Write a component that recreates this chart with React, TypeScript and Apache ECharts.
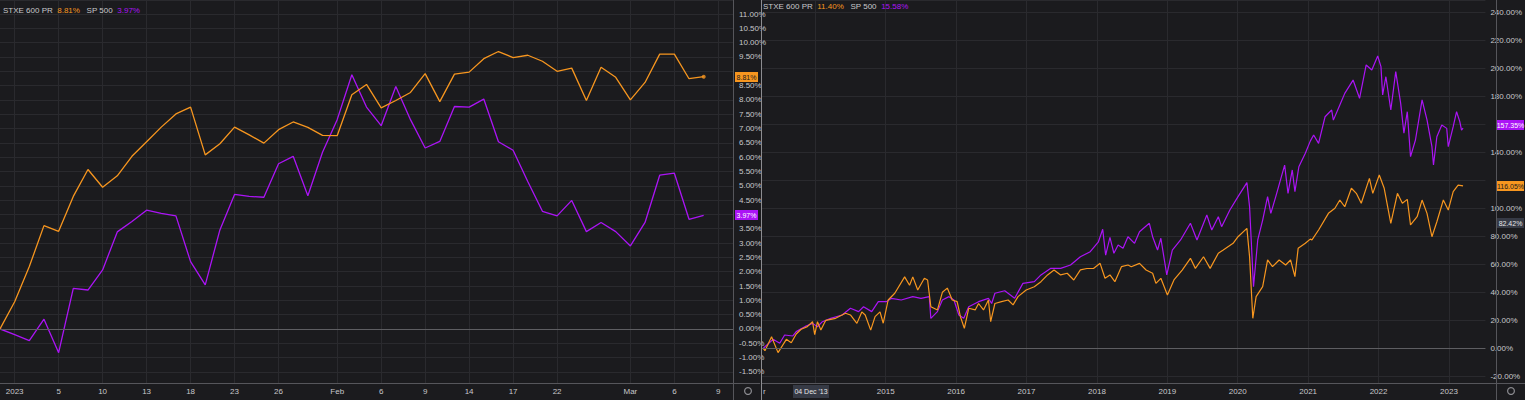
import React, { useEffect, useRef } from "react";
import * as echarts from "echarts";

// ---------- Left chart: YTD 2023, % change ----------
const ytdDates = [
  "2022-12-30", "2023-01-02", "2023-01-03", "2023-01-04", "2023-01-05", "2023-01-06", "2023-01-09", "2023-01-10",
  "2023-01-11", "2023-01-12", "2023-01-13", "2023-01-16", "2023-01-17", "2023-01-18", "2023-01-19", "2023-01-20",
  "2023-01-23", "2023-01-24", "2023-01-25", "2023-01-26", "2023-01-27", "2023-01-30", "2023-01-31", "2023-02-01",
  "2023-02-02", "2023-02-03", "2023-02-06", "2023-02-07", "2023-02-08", "2023-02-09", "2023-02-10", "2023-02-13",
  "2023-02-14", "2023-02-15", "2023-02-16", "2023-02-17", "2023-02-20", "2023-02-21", "2023-02-22", "2023-02-23",
  "2023-02-24", "2023-02-27", "2023-02-28", "2023-03-01", "2023-03-02", "2023-03-03", "2023-03-06", "2023-03-07",
  "2023-03-08", "2023-03-09", "2023-03-10",
];
const ytdTickLabels = [
  "", "2023", "", "", "5", "", "", "10", "", "", "13", "", "", "18", "", "", "23", "", "", "26", "", "", "", "Feb",
  "", "", "6", "", "", "9", "", "", "14", "", "", "17", "", "", "22", "", "", "", "", "Mar", "", "", "6", "", "", "9", "",
];
const stoxxYtd = [
  0, 0.95, 2.18, 3.61, 3.41, 4.63, 5.57, 4.95, 5.35, 6.03, 6.54, 7.05, 7.51, 7.75, 6.08, 6.47, 7.05, 6.78, 6.49, 6.96,
  7.23, 7.04, 6.76, 6.75, 8.18, 8.54, 7.72, 7.98, 8.26, 8.92, 7.94, 8.9, 8.97, 9.44, 9.69, 9.48, 9.56, 9.35, 9.0, 9.11,
  7.98, 9.14, 8.79, 8.0, 8.61, 9.6, 9.6, 8.74, 8.81,
];
const spxYtd = [
  0, -0.2, -0.41, 0.34, -0.83, 1.42, 1.36, 2.06, 3.39, 3.75, 4.15, 4.04, 3.95, 2.35, 1.54, 3.46, 4.7, 4.63, 4.6, 5.77,
  6.03, 4.65, 6.17, 7.31, 8.88, 7.75, 7.1, 8.47, 7.31, 6.32, 6.55, 7.77, 7.75, 8.03, 6.54, 6.24, 5.15, 4.11, 3.95, 4.49,
  3.4, 3.72, 3.4, 2.9, 3.72, 5.37, 5.44, 3.83, 3.97,
];

// ---------- Right chart: since 2013, % change (x = decimal year) ----------
const longStoxxYears = [
  2013.261, 2013.285, 2013.379, 2013.471, 2013.589, 2013.659, 2013.729, 2013.799, 2013.887, 2013.961,
  2013.992, 2014.031, 2014.079, 2014.149, 2014.289, 2014.429, 2014.499, 2014.591, 2014.661, 2014.709,
  2014.787, 2014.849, 2014.919, 2014.965, 2015.035, 2015.129, 2015.269, 2015.339, 2015.385, 2015.455,
  2015.549, 2015.595, 2015.641, 2015.735, 2015.805, 2015.875, 2015.945, 2016.015, 2016.061, 2016.117,
  2016.179, 2016.271, 2016.319, 2016.389, 2016.459, 2016.491, 2016.551, 2016.645, 2016.739, 2016.809,
  2016.879, 2016.995, 2017.111, 2017.205, 2017.299, 2017.391, 2017.485, 2017.578, 2017.671, 2017.765,
  2017.858, 2017.951, 2018.045, 2018.115, 2018.185, 2018.255, 2018.348, 2018.441, 2018.488, 2018.605,
  2018.698, 2018.791, 2018.838, 2018.908, 2019.001, 2019.094, 2019.211, 2019.328, 2019.398, 2019.514,
  2019.608, 2019.724, 2019.794, 2019.934, 2020.004, 2020.13, 2020.168, 2020.214, 2020.261, 2020.354,
  2020.424, 2020.494, 2020.588, 2020.68, 2020.75, 2020.812, 2020.858, 2020.96, 2021.03, 2021.054,
  2021.148, 2021.288, 2021.38, 2021.45, 2021.52, 2021.614, 2021.684, 2021.754, 2021.87, 2021.918,
  2022.01, 2022.08, 2022.174, 2022.268, 2022.338, 2022.408, 2022.454, 2022.548, 2022.618, 2022.688,
  2022.758, 2022.828, 2022.92, 2022.99, 2023.06, 2023.13, 2023.2,
];
const longStoxxPct = [
  0, -1.7, 8.3, -3.1, 6.4, 4.0, 10.2, 13.6, 15.5, 19.0,
  9.8, 19.0, 13.0, 20.0, 21.4, 25.0, 23.8, 17.8, 26.0, 23.8,
  13.0, 22.6, 26.0, 17.9, 34.5, 39.3, 51.0, 45.0, 51.0, 41.6,
  50.0, 48.8, 29.7, 27.4, 40.0, 43.0, 34.5, 33.3, 22.6, 14.3,
  28.6, 27.4, 32.0, 27.4, 34.5, 19.0, 32.0, 33.3, 34.5, 31.0,
  36.9, 41.6, 44.0, 47.6, 52.4, 56.0, 52.4, 53.6, 48.8, 56.0,
  57.0, 57.0, 60.7, 50.0, 52.4, 47.6, 58.3, 59.5, 58.3, 60.7,
  55.9, 53.6, 46.4, 50.0, 38.1, 48.8, 55.9, 64.3, 57.1, 65.4,
  57.1, 67.9, 70.2, 75.0, 79.7, 85.7, 65.4, 21.4, 36.9, 44.0,
  63.1, 58.3, 63.1, 59.5, 63.1, 51.2, 71.4, 75.0, 78.0, 77.4,
  84.5, 96.4, 100.0, 105.9, 101.1, 114.3, 110.7, 103.6, 121.4, 110.7,
  123.8, 114.3, 89.3, 110.7, 103.6, 106.4, 88.1, 94.0, 105.9, 96.4,
  79.7, 90.4, 105.9, 98.8, 111.9, 116.6, 116.05,
];
const longSpxYears = [
  2013.261, 2013.401, 2013.495, 2013.565, 2013.681, 2013.729, 2013.869, 2013.961, 2014.031, 2014.101,
  2014.219, 2014.381, 2014.499, 2014.615, 2014.685, 2014.801, 2014.895, 2015.011, 2015.081, 2015.221,
  2015.385, 2015.501, 2015.619, 2015.641, 2015.735, 2015.805, 2015.899, 2015.969, 2016.039, 2016.109,
  2016.179, 2016.319, 2016.459, 2016.505, 2016.551, 2016.691, 2016.831, 2016.949, 2017.111, 2017.205,
  2017.345, 2017.485, 2017.625, 2017.765, 2017.905, 2018.021, 2018.082, 2018.124, 2018.185, 2018.241,
  2018.301, 2018.371, 2018.441, 2018.534, 2018.605, 2018.744, 2018.791, 2018.861, 2018.908, 2018.992,
  2019.071, 2019.188, 2019.328, 2019.421, 2019.561, 2019.631, 2019.724, 2019.771, 2019.888, 2020.004,
  2020.13, 2020.168, 2020.224, 2020.284, 2020.354, 2020.424, 2020.47, 2020.54, 2020.666, 2020.714,
  2020.774, 2020.812, 2020.868, 2020.96, 2021.03, 2021.078, 2021.148, 2021.24, 2021.334, 2021.358,
  2021.45, 2021.52, 2021.638, 2021.73, 2021.824, 2021.904, 2021.988, 2022.034, 2022.058, 2022.104,
  2022.174, 2022.244, 2022.314, 2022.36, 2022.408, 2022.454, 2022.524, 2022.618, 2022.688, 2022.758,
  2022.78, 2022.828, 2022.898, 2022.968, 2022.99, 2023.06, 2023.108, 2023.154, 2023.178, 2023.2,
];
const longSpxPct = [
  0, 6.4, 3.6, 9.5, 8.8, 11.9, 15.9, 17.8, 15.4, 19.0,
  21.4, 23.8, 28.6, 26.2, 29.7, 26.2, 33.3, 33.3, 35.7, 34.5,
  36.9, 35.7, 36.9, 21.4, 26.2, 34.5, 36.9, 34.5, 23.8, 21.4,
  29.7, 33.3, 35.7, 32.0, 39.3, 41.1, 35.7, 46.4, 47.6, 52.4,
  57.1, 57.1, 59.5, 65.4, 69.0, 76.1, 85.0, 66.6, 79.3, 67.9,
  73.8, 71.4, 79.7, 75.0, 83.3, 89.3, 79.7, 70.2, 78.6, 52.4,
  70.2, 77.4, 89.3, 77.4, 95.2, 84.5, 94.0, 86.9, 98.8, 108.3,
  118.3, 101.1, 44.0, 77.4, 91.6, 108.3, 96.4, 108.3, 130.9, 110.7,
  127.4, 111.9, 129.7, 139.3, 148.0, 152.4, 146.4, 165.4, 170.2, 163.0,
  173.8, 182.1, 191.6, 178.6, 202.4, 198.8, 208.8, 201.2, 181.0, 194.0,
  170.2, 197.6, 175.0, 153.6, 169.0, 136.9, 148.8, 177.4, 163.1, 144.0,
  130.9, 151.1, 159.5, 157.1, 144.0, 158.3, 169.0, 161.9, 155.9, 157.35,
];
const longGridYears = [2014, 2015, 2016, 2017, 2018, 2019, 2020, 2021, 2022, 2023];
const longLabelYears = [2015, 2016, 2017, 2018, 2019, 2020, 2021, 2022, 2023];

const leftLegend = { name1: "STXE 600 PR", val1: "8.81%", name2: "SP 500", val2: "3.97%" };
const rightLegend = { name1: "STXE 600 PR", val1: "11.40%", name2: "SP 500", val2: "15.58%" };
const extraTag = "82.42%";
const dateTag = "04 Dec '13";

const FONT = "'Liberation Sans Narrow', 'Liberation Sans', Arial, sans-serif";
const BG = "#1b1b1e";
const GRID_C = "#2a2a2e";
const AXIS_C = "#56565b";
const ZERO_C = "#5e5e62";
const TEXT_C = "#c8c8cb";
const ORANGE = "#f7961f";
const PURPLE = "#ab14f5";

const LONG_MIN = 2013.2432;
const LONG_MAX = 2023.5176;

const lastStoxx = stoxxYtd[stoxxYtd.length - 1];
const lastSpx = spxYtd[spxYtd.length - 1];
const lastLongStoxx = longStoxxPct[longStoxxPct.length - 1];
const lastLongSpx = longSpxPct[longSpxPct.length - 1];

const isHalfStep = (v: number) => Math.abs(v * 2 - Math.round(v * 2)) < 1e-6;
const isStep20 = (v: number) => Math.abs(v / 20 - Math.round(v / 20)) < 1e-6;
// axis labels sitting right under a value tag are covered by it
const leftCovered = (v: number) => Math.abs(v - lastStoxx) < 0.24 || Math.abs(v - lastSpx) < 0.24;
const rightCovered = (v: number) => Math.abs(v - (lastLongSpx + 2.1)) < 5 || Math.abs(v - lastLongStoxx) < 5;

export default function App() {
  const ref = useRef<HTMLDivElement>(null);

  useEffect(() => {
    const el = ref.current!;
    const chart = echarts.init(el, null, { renderer: "svg" });
    const last = stoxxYtd.length - 1;

    const zeroLine = {
      silent: true,
      symbol: ["none", "none"],
      label: { show: false },
      lineStyle: { color: ZERO_C, width: 1, type: "solid" },
      data: [{ yAxis: 0 }],
    };

    const option: any = {
      animation: false,
      backgroundColor: BG,
      textStyle: { fontFamily: FONT },
      grid: [
        { left: 0, top: 0, width: 733, height: 383 },
        { left: 762, top: 0, width: 734, height: 383 },
      ],
      xAxis: [
        {
          type: "category",
          gridIndex: 0,
          data: ytdDates,
          boundaryGap: false,
          axisLine: { show: false },
          axisTick: { show: false },
          axisLabel: {
            interval: (i: number) => ytdTickLabels[i] !== "",
            formatter: (_v: string, i: number) => ytdTickLabels[i],
            color: TEXT_C,
            fontSize: 8,
            fontFamily: FONT,
            margin: 4,
          },
          splitLine: {
            show: true,
            interval: (i: number) => ytdTickLabels[i] !== "",
            lineStyle: { color: GRID_C, width: 1 },
          },
        },
        {
          type: "value",
          gridIndex: 1,
          min: LONG_MIN,
          max: LONG_MAX,
          axisLine: { show: false },
          axisTick: { show: false, customValues: longGridYears },
          axisLabel: {
            customValues: longLabelYears,
            formatter: (v: number) => String(Math.round(v)),
            color: TEXT_C,
            fontSize: 8,
            fontFamily: FONT,
            margin: 4,
          },
          splitLine: { show: true, lineStyle: { color: GRID_C, width: 1 } },
        },
      ],
      yAxis: [
        {
          type: "value",
          gridIndex: 0,
          position: "right",
          min: -1.888,
          max: 11.49,
          minInterval: 0.5,
          maxInterval: 0.5,
          axisLine: { show: false },
          axisTick: { show: false },
          axisLabel: {
            showMinLabel: false,
            showMaxLabel: false,
            formatter: (v: number) => (isHalfStep(v) && !leftCovered(v) ? v.toFixed(2) + "%" : ""),
            color: TEXT_C,
            fontSize: 8,
            fontFamily: FONT,
            margin: 6,
          },
          splitLine: { show: true, lineStyle: { color: GRID_C, width: 1 } },
        },
        {
          type: "value",
          gridIndex: 1,
          position: "right",
          min: -24.79,
          max: 248.8,
          minInterval: 20,
          maxInterval: 20,
          axisLine: { show: false },
          axisTick: { show: false },
          axisLabel: {
            showMinLabel: false,
            showMaxLabel: false,
            formatter: (v: number) => (isStep20(v) && !rightCovered(v) ? v.toFixed(2) + "%" : ""),
            color: TEXT_C,
            fontSize: 8,
            fontFamily: FONT,
            margin: 5,
          },
          splitLine: { show: true, lineStyle: { color: GRID_C, width: 1 } },
        },
      ],
      series: [
        {
          name: "SP 500",
          type: "line",
          xAxisIndex: 0,
          yAxisIndex: 0,
          data: spxYtd,
          showSymbol: false,
          lineStyle: { color: PURPLE, width: 1.3 },
          itemStyle: { color: PURPLE },
          markLine: zeroLine,
        },
        {
          name: "STXE 600 PR",
          type: "line",
          xAxisIndex: 0,
          yAxisIndex: 0,
          data: stoxxYtd,
          showSymbol: false,
          lineStyle: { color: ORANGE, width: 1.3 },
          itemStyle: { color: ORANGE },
        },
        {
          name: "last",
          type: "scatter",
          xAxisIndex: 0,
          yAxisIndex: 0,
          data: [[last, lastStoxx]],
          symbolSize: 4,
          itemStyle: { color: ORANGE },
        },
        {
          name: "SP 500 long",
          type: "line",
          xAxisIndex: 1,
          yAxisIndex: 1,
          data: longSpxYears.map((t, i) => [t, longSpxPct[i]]),
          showSymbol: false,
          lineStyle: { color: PURPLE, width: 1.2 },
          itemStyle: { color: PURPLE },
          markLine: zeroLine,
        },
        {
          name: "STXE 600 PR long",
          type: "line",
          xAxisIndex: 1,
          yAxisIndex: 1,
          data: longStoxxYears.map((t, i) => [t, longStoxxPct[i]]),
          showSymbol: false,
          lineStyle: { color: ORANGE, width: 1.2 },
          itemStyle: { color: ORANGE },
        },
      ],
    };
    chart.setOption(option);

    const font = `8px ${FONT}`;
    const tagFont = `7px ${FONT}`;
    const txt = (x: number, y: number, text: string, fill: string, align = "left", f = font) => ({
      type: "text",
      x,
      y,
      z: 120,
      style: { text, fill, font: f, align, textAlign: align, verticalAlign: "middle", textVerticalAlign: "middle" },
    });
    const tag = (x: number, yc: number, w: number, fill: string, text: string, color: string) => [
      { type: "rect", shape: { x, y: Math.round(yc) - 5, width: w, height: 10 }, style: { fill }, z: 110 },
      txt(x + w / 2, Math.round(yc), text, color, "center", tagFont),
    ];
    const vline = (x: number, color: string) => ({
      type: "line",
      shape: { x1: x, y1: 0, x2: x, y2: 400 },
      style: { stroke: color, lineWidth: 1 },
      z: 105,
    });
    const hline = (x1: number, x2: number, y: number) => ({
      type: "line",
      shape: { x1, y1: y, x2, y2: y },
      style: { stroke: AXIS_C, lineWidth: 1 },
      z: 105,
    });
    const gear = (cx: number, cy: number) => ({
      type: "ring",
      shape: { cx, cy, r: 4, r0: 2.8 },
      style: { fill: "#8d8d92" },
      z: 120,
    });
    const legend = (x: number, y: number, lg: typeof leftLegend) => ({
      type: "text",
      x,
      y,
      z: 120,
      style: {
        text: `{n|${lg.name1}}  {o|${lg.val1}}   {n|${lg.name2}}  {p|${lg.val2}}`,
        font,
        fill: TEXT_C,
        verticalAlign: "middle",
        textVerticalAlign: "middle",
        rich: {
          n: { fill: TEXT_C, font },
          o: { fill: ORANGE, font },
          p: { fill: PURPLE, font },
        },
      },
    });

    const yS = chart.convertToPixel({ yAxisIndex: 0 }, lastStoxx) as number;
    const yP = chart.convertToPixel({ yAxisIndex: 0 }, lastSpx) as number;
    const yLS = chart.convertToPixel({ yAxisIndex: 1 }, lastLongStoxx) as number;
    const yLP = chart.convertToPixel({ yAxisIndex: 1 }, lastLongSpx) as number;

    const elements: any[] = [
      vline(733.5, AXIS_C),
      vline(761.5, "#8c8c90"),
      vline(1496.5, AXIS_C),
      hline(0, 760, 383.5),
      hline(762, 1525, 383.5),
      legend(3, 10.5, leftLegend),
      legend(763, 6, rightLegend),
      ...tag(735, yS, 23, ORANGE, lastStoxx.toFixed(2) + "%", "#1b1b1e"),
      ...tag(735, yP, 23, PURPLE, lastSpx.toFixed(2) + "%", "#ffffff"),
      ...tag(1497, yLP - 3, 27, PURPLE, lastLongSpx.toFixed(2) + "%", "#ffffff"),
      ...tag(1497, yLS, 27, ORANGE, lastLongStoxx.toFixed(2) + "%", "#1b1b1e"),
      ...tag(1497, 223, 27, "#363a45", extraTag, "#e6e6e6"),
      { type: "rect", shape: { x: 793, y: 385, width: 36, height: 13 }, style: { fill: "#363a45" }, z: 110 },
      txt(811, 391.5, dateTag, "#e6e6e6", "center", tagFont),
      txt(763, 391.5, "r", TEXT_C),
      gear(748, 391),
      gear(1511, 391),
    ];
    chart.setOption({ graphic: { elements } });

    return () => chart.dispose();
  }, []);

  return (
    <div
      ref={ref}
      style={{ position: "fixed", left: 0, top: 0, width: 1525, height: 400 }}
    />
  );
}
